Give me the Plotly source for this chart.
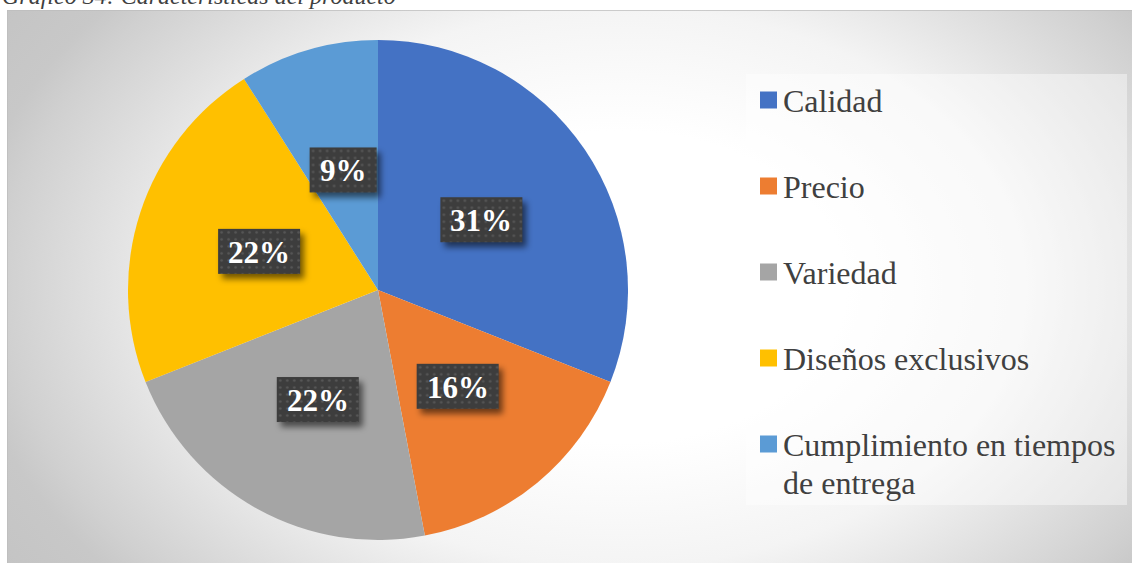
import base64
import math
import textwrap

import plotly.graph_objects as go

# ---- data -------------------------------------------------------------
categories = ["Calidad", "Precio", "Variedad", "Diseños exclusivos",
              "Cumplimiento en tiempos de entrega"]
percentages = [31, 16, 22, 22, 9]
slice_colors = ["#4472C4", "#ED7D31", "#A5A5A5", "#FFC000", "#5B9BD5"]
title_text = "Gráfico 34: Características del producto"

# ---- page geometry (pixels) --------------------------------------------
W, H = 1132, 563
CHART_X0, CHART_Y0 = 7, 10          # chart area top-left
PIE_CX, PIE_CY, PIE_R = 378, 290, 250
SERIF = "Liberation Serif"


def px(x):
    return x / W


def py(y):
    return 1 - y / H


def svg_uri(svg):
    return "data:image/svg+xml;base64," + base64.b64encode(svg.encode()).decode()


fig = go.Figure()

# ---- chart area background: soft radial grey gradient ------------------
cw, ch = W - CHART_X0 + 2, H - CHART_Y0 + 2
gcx, gcy = 613, 277
bg_svg = f"""<svg xmlns='http://www.w3.org/2000/svg' width='{cw}' height='{ch}' viewBox='0 0 {cw} {ch}'>
<defs><radialGradient id='g' gradientUnits='userSpaceOnUse' cx='{gcx}' cy='{gcy}' r='781'
 gradientTransform='translate({gcx} {gcy}) scale(1 0.6875) translate({-gcx} {-gcy})'>
<stop offset='0' stop-color='#ffffff'/><stop offset='0.29' stop-color='#ffffff'/>
<stop offset='0.52' stop-color='#f4f4f4'/><stop offset='0.79' stop-color='#d0d0d0'/>
<stop offset='0.84' stop-color='#c8c8c8'/><stop offset='1' stop-color='#c2c2c2'/>
</radialGradient></defs>
<rect x='0' y='0' width='{cw}' height='{ch}' fill='url(#g)' stroke='#bdbdbd' stroke-width='1.5'/>
</svg>"""
images = [dict(source=svg_uri(bg_svg), xref="paper", yref="paper",
               x=px(CHART_X0), y=py(CHART_Y0), sizex=cw / W, sizey=ch / H,
               sizing="stretch", xanchor="left", yanchor="top", layer="below")]

# ---- pie ---------------------------------------------------------------
fig.add_trace(go.Pie(
    labels=categories, values=percentages, sort=False, direction="clockwise",
    rotation=0, marker=dict(colors=slice_colors, line=dict(width=0)),
    textinfo="none", hoverinfo="label+percent", showlegend=False,
    domain=dict(x=[px(PIE_CX - PIE_R), px(PIE_CX + PIE_R)],
                y=[py(PIE_CY + PIE_R), py(PIE_CY - PIE_R)]),
))

# ---- data labels: dark dotted boxes with a soft drop shadow ------------
annotations = []
total = sum(percentages)
cum = 0
LABEL_FS = 31
for val in percentages:
    mid = (cum + val / 2) / total * 2 * math.pi
    cum += val
    lx = PIE_CX + 0.5 * PIE_R * math.sin(mid)
    ly = PIE_CY - 0.5 * PIE_R * math.cos(mid)
    txt = f"{round(val / total * 100)}%"
    bw = round((0.5 * (len(txt) - 1) + 1.0) * 30 + 22)
    bh = 45
    pad = 14
    sw, sh = bw + 2 * pad, bh + 2 * pad
    box_svg = f"""<svg xmlns='http://www.w3.org/2000/svg' width='{sw}' height='{sh}' viewBox='0 0 {sw} {sh}'>
<defs>
<filter id='b' x='-50%' y='-50%' width='200%' height='200%'><feGaussianBlur stdDeviation='3'/></filter>
<pattern id='p' width='7' height='7' patternUnits='userSpaceOnUse'>
<rect width='7' height='7' fill='#3d3d3d'/><circle cx='3.5' cy='3.5' r='1.3' fill='#575757'/></pattern>
</defs>
<rect x='{pad + 4}' y='{pad + 5}' width='{bw}' height='{bh}' fill='rgba(0,0,0,0.55)' filter='url(#b)'/>
<rect x='{pad}' y='{pad}' width='{bw}' height='{bh}' fill='url(#p)'/>
</svg>"""
    images.append(dict(source=svg_uri(box_svg), xref="paper", yref="paper",
                       x=px(lx - bw / 2 - pad), y=py(ly - bh / 2 - pad),
                       sizex=sw / W, sizey=sh / H, sizing="stretch",
                       xanchor="left", yanchor="top", layer="above"))
    annotations.append(dict(text=f"<b>{txt}</b>", x=px(lx), y=py(ly + 1),
                            xref="paper", yref="paper", showarrow=False,
                            xanchor="center", yanchor="middle",
                            font=dict(family=SERIF, size=LABEL_FS, color="white")))

# ---- legend (drawn by hand to get the wide spacing) --------------------
LEG_X0, LEG_Y0, LEG_X1, LEG_Y1 = 746, 74, 1127, 505
shapes = [dict(type="rect", xref="paper", yref="paper",
               x0=px(LEG_X0), x1=px(LEG_X1), y0=py(LEG_Y1), y1=py(LEG_Y0),
               fillcolor="rgba(255,255,255,0.42)", line=dict(width=0),
               layer="below")]
ROW0, ROW_STEP, LINE_STEP = 100, 86, 38
for i, (name, col) in enumerate(zip(categories, slice_colors)):
    yc = ROW0 + ROW_STEP * i
    shapes.append(dict(type="rect", xref="paper", yref="paper",
                       x0=px(760), x1=px(777), y0=py(yc + 8.5), y1=py(yc - 8.5),
                       fillcolor=col, line=dict(width=0)))
    for j, line in enumerate(textwrap.wrap(name, 23)):
        annotations.append(dict(text=line, x=px(781), y=py(yc + LINE_STEP * j + 1),
                                xref="paper", yref="paper", showarrow=False,
                                xanchor="left", yanchor="middle",
                                font=dict(family=SERIF, size=32, color="#404040")))

# ---- caption above the chart -------------------------------------------
annotations.append(dict(text=title_text, x=0, y=py(-4), xref="paper", yref="paper",
                        showarrow=False, xanchor="left", yanchor="middle",
                        font=dict(family=SERIF, size=24, color="#404040",
                                  style="italic")))

fig.update_layout(
    width=W, height=H, margin=dict(l=0, r=0, t=0, b=0),
    paper_bgcolor="white", plot_bgcolor="white",
    images=images, shapes=shapes, annotations=annotations,
    showlegend=False,
)

fig.write_html("out.html")
